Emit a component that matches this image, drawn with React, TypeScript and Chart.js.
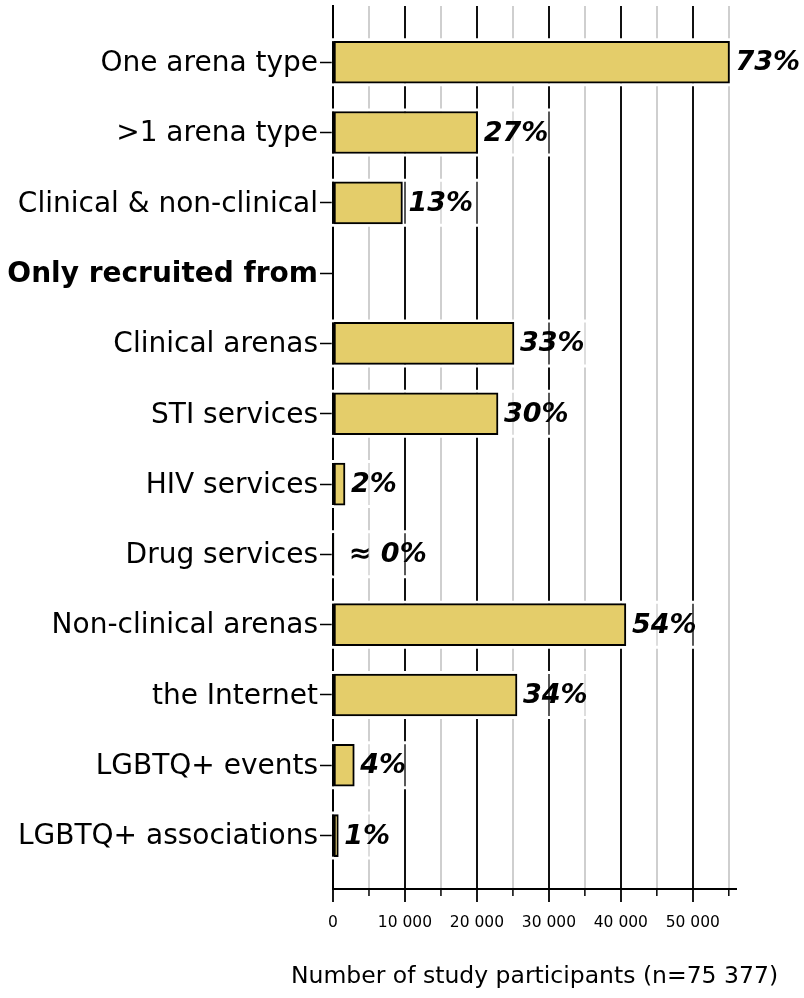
import React, { useEffect, useRef } from 'react';
import { Chart, registerables } from 'chart.js';

Chart.register(...registerables);

const categories = [
  'One arena type',
  '>1 arena type',
  'Clinical & non-clinical',
  'Only recruited from',
  'Clinical arenas',
  'STI services',
  'HIV services',
  'Drug services',
  'Non-clinical arenas',
  'the Internet',
  'LGBTQ+ events',
  'LGBTQ+ associations',
];
const participants: (number | null)[] = [55100, 20100, 9650, null, 25150, 22930, 1670, 60, 40700, 25570, 2960, 740];
const percentLabels = ['73%', '27%', '13%', '', '33%', '30%', '2%', ' ≈ 0%', '54%', '34%', '4%', '1%'];
const headerRows = [3];
const xTickValues = [0, 5000, 10000, 15000, 20000, 25000, 30000, 35000, 40000, 45000, 50000, 55000];
const xMax = 56000;
const xAxisTitle = 'Number of study participants (n=75 377)';

const FONT = 'DejaVu Sans';
const valueFont = `italic bold 27px "${FONT}"`;
const titleFont = `23.5px "${FONT}"`;
const LABEL_GAP = 6;

const rowIndex: number[] = [];
const barData: { x: number; y: number }[] = [];
participants.forEach((v, i) => {
  if (v !== null) {
    rowIndex.push(i);
    barData.push({ x: v, y: i });
  }
});

const bandPlugin = {
  id: 'labelBands',
  beforeDatasetsDraw(chart: any) {
    const ctx = chart.ctx;
    const meta = chart.getDatasetMeta(0);
    const x0 = chart.scales.x.getPixelForValue(0);
    ctx.save();
    ctx.font = valueFont;
    meta.data.forEach((bar: any, j: number) => {
      const label = percentLabels[rowIndex[j]];
      const { x, y, height } = bar.getProps(['x', 'y', 'height'], true);
      const w = ctx.measureText(label).width;
      const right = x + LABEL_GAP + w + 7;
      const top = y - height / 2 - 1.5;
      const bottom = y + height / 2 + 1.5;
      ctx.fillStyle = 'rgba(255,255,255,0.3)';
      ctx.fillRect(x0 - 2, top, right - x0 + 2, bottom - top);
      ctx.strokeStyle = '#ffffff';
      ctx.lineWidth = 3;
      ctx.beginPath();
      ctx.moveTo(x0 - 2, top);
      ctx.lineTo(right, top);
      ctx.moveTo(x0 - 2, bottom);
      ctx.lineTo(right, bottom);
      ctx.stroke();
    });
    ctx.restore();
  },
  afterDatasetsDraw(chart: any) {
    const ctx = chart.ctx;
    const meta = chart.getDatasetMeta(0);
    const x0 = chart.scales.x.getPixelForValue(0);
    ctx.save();
    meta.data.forEach((bar: any, j: number) => {
      const label = percentLabels[rowIndex[j]];
      const { x, y, height } = bar.getProps(['x', 'y', 'height'], true);
      ctx.strokeStyle = '#000';
      ctx.lineWidth = 2;
      ctx.beginPath();
      ctx.moveTo(x0, y - height / 2);
      ctx.lineTo(x0, y + height / 2);
      ctx.stroke();
      ctx.font = valueFont;
      ctx.fillStyle = '#000';
      ctx.textAlign = 'left';
      ctx.textBaseline = 'middle';
      ctx.fillText(label, x + LABEL_GAP, y + 1);
    });
    ctx.restore();
  },
  afterDraw(chart: any) {
    const ctx = chart.ctx;
    const xs = chart.scales.x;
    const area = chart.chartArea;
    const yb = area.bottom;
    ctx.save();
    ctx.strokeStyle = '#000';
    ctx.lineWidth = 1.5;
    xTickValues.forEach((v) => {
      if (v % 10000 !== 0) {
        const px = xs.getPixelForValue(v);
        ctx.beginPath();
        ctx.moveTo(px, yb);
        ctx.lineTo(px, yb + 7);
        ctx.stroke();
      }
    });
    ctx.font = titleFont;
    ctx.fillStyle = '#000';
    ctx.textAlign = 'center';
    ctx.textBaseline = 'middle';
    ctx.fillText(xAxisTitle, (area.left + area.right) / 2, 977);
    ctx.restore();
  },
};

export default function App() {
  const ref = useRef<HTMLCanvasElement | null>(null);
  useEffect(() => {
    if (!ref.current) return;
    Chart.defaults.font.family = FONT;
    const chart = new Chart(ref.current, {
      type: 'bar',
      data: {
        datasets: [
          {
            data: barData as any,
            backgroundColor: '#e4cd6a',
            borderColor: '#000',
            borderWidth: 2,
            borderSkipped: false,
            barThickness: 42,
          },
        ],
      },
      options: {
        indexAxis: 'y',
        animation: false,
        responsive: false,
        layout: { padding: { top: 6, right: 68, bottom: 0, left: 0 } },
        plugins: { legend: { display: false }, tooltip: { enabled: false } },
        scales: {
          x: {
            type: 'linear',
            min: 0,
            max: xMax,
            offset: false,
            afterBuildTicks: (scale: any) => {
              scale.ticks = xTickValues.map((v) => ({ value: v }));
            },
            afterFit: (scale: any) => {
              scale.height = 109;
            },
            grid: {
              offset: false,
              color: (c: any) => (c.tick && c.tick.value % 10000 === 0 ? '#111' : '#cfcfcf'),
              lineWidth: 2,
              tickLength: 13,
              tickColor: (c: any) => (c.tick && c.tick.value % 10000 === 0 ? '#000' : 'rgba(0,0,0,0)'),
              tickWidth: 1.8,
            },
            border: { display: true, color: '#000', width: 2 },
            ticks: {
              autoSkip: false,
              maxRotation: 0,
              padding: 12,
              color: '#000',
              font: { family: FONT, size: 15.5 },
              callback: (v: any) => (v % 10000 === 0 ? (v === 0 ? '0' : `${v / 1000} 000`) : ''),
            },
          },
          y: {
            type: 'linear',
            reverse: true,
            offset: false,
            min: -0.8,
            max: 11.76,
            afterBuildTicks: (scale: any) => {
              scale.ticks = categories.map((_, i) => ({ value: i }));
            },
            afterFit: (scale: any) => {
              scale.width = 333;
              scale.paddingTop = 0;
              scale.paddingBottom = 0;
            },
            grid: {
              offset: false,
              drawOnChartArea: false,
              tickLength: 13,
              tickColor: '#000',
              tickWidth: 1.5,
            },
            border: { display: true, color: '#000', width: 2 },
            ticks: {
              autoSkip: false,
              padding: 2,
              labelOffset: 1.5,
              color: '#000',
              font: (c: any) => ({
                family: FONT,
                size: 28,
                weight: headerRows.includes(c.index) ? 'bold' : 'normal',
              }),
              callback: (v: any) => categories[v] ?? '',
            },
          },
        },
      },
      plugins: [bandPlugin],
    });
    return () => chart.destroy();
  }, []);
  return (
    <div style={{ position: 'absolute', left: 0, top: 0, width: 804, height: 998, background: '#fff' }}>
      <canvas ref={ref} width={804} height={998} style={{ width: 804, height: 998, display: 'block' }} />
    </div>
  );
}
